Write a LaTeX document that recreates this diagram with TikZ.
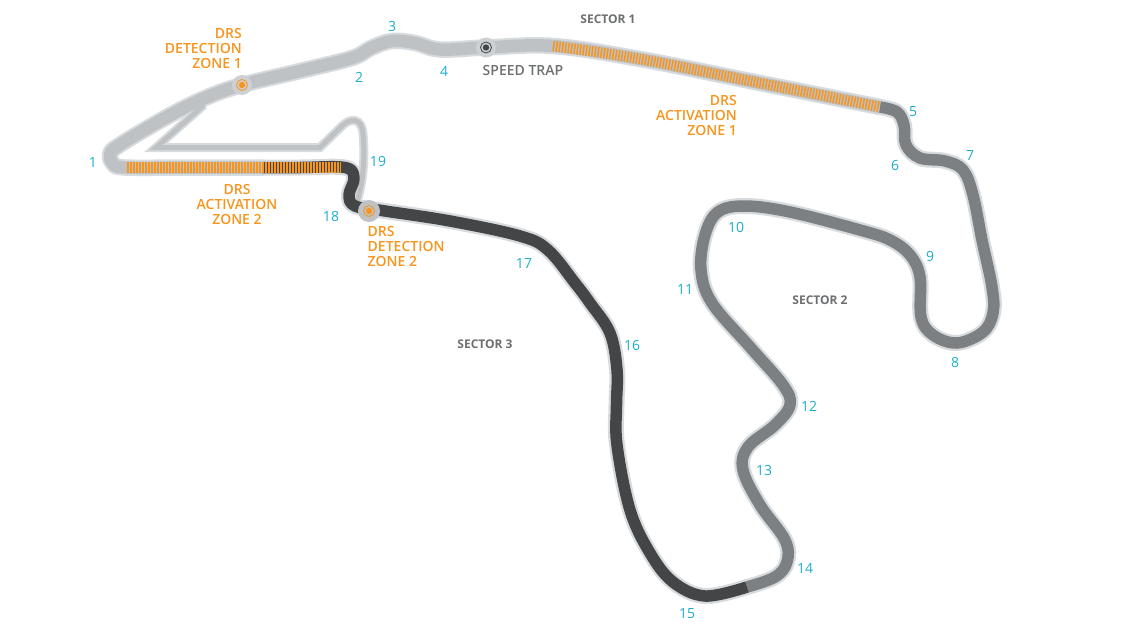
\documentclass[tikz,border=0pt]{standalone}
\usepackage{fontspec}
\setmainfont{Open Sans}
\newfontfamily\semifont{Open Sans Semibold}
\definecolor{secA}{HTML}{BEC2C5}
\definecolor{secB}{HTML}{7C8083}
\definecolor{secC}{HTML}{434547}
\definecolor{halo}{HTML}{D8DBDE}
\definecolor{drs}{HTML}{F7941D}
\definecolor{turn}{HTML}{1CADCF}
\definecolor{txtgrey}{HTML}{6D6F71}
\newcommand{\ptsA}{(263,167.5) (190,167.5) (125,167.5) (113,163.5) (110,155) (118,146) (165,118) (205,98) (242,85) (300,71) (352,58) (371,48) (392,41) (415,43) (440,49.5) (486,47.5) (553,46) (640,59) (760,83) (880,107)}
\newcommand{\ptsB}{(880,107) (897,112) (904,125) (906,145) (920,158) (945,161) (963,170) (973,195) (982,240) (992,287) (993,313) (983,332) (957,343) (933,335) (921,317) (920,277) (910,255) (890,240) (860,230) (790,212) (745,206) (718,212) (705,235) (701,270) (712,303) (750,347) (783,385) (790,405) (775,425) (748,447) (743,470) (760,505) (785,540) (787,562) (775,577) (747,587)}
\newcommand{\ptsC}{(747,587) (705,596) (673,582) (650,553) (630,510) (617,445) (616.5,405) (617,370) (610,333) (590,303) (575,283) (548,250) (520,236) (450,221) (385,211) (355,206) (349,195) (354,178) (345,167.5) (300,167.5) (263,167.5)}
\newcommand{\pitpath}{(204,105) -- (156,147.5) -- (320,147.5) -- (342,126) .. controls (350,118) and (362,117) .. (363,134) .. controls (365,155) and (364,180) .. (356,205)}
\tikzset{
  trk/.style={line width=#1,line cap=butt,line join=round},
  turnlab/.style={text=turn,font=\fontsize{14}{15}\selectfont,inner sep=0pt,yshift=-0.7pt},
  drslab/.style={text=drs,font=\semifont\fontsize{14}{15}\selectfont,inner sep=0pt,align=#1,yshift=-0.7pt},
  seclab/.style={text=txtgrey,font=\fontsize{12}{14}\selectfont\bfseries,inner sep=0pt,yshift=-0.4pt},
  hatch/.style={line width=10.5pt,dash pattern=on 1.5pt off 1.5pt}
}
\begin{document}
\begin{tikzpicture}[x=1pt,y=-1pt]
\useasboundingbox (0,0) rectangle (1128,635);
% halos
\draw[halo,trk=9pt,line join=miter] \pitpath;
\draw[halo,trk=16.5pt,line cap=round] plot[smooth,tension=0.6] coordinates {\ptsA};
\draw[halo,trk=16pt,line cap=round] plot[smooth,tension=0.6] coordinates {\ptsB};
\draw[halo,trk=16pt,line cap=round] plot[smooth,tension=0.6] coordinates {\ptsC};
% pit lane
\draw[secA,trk=5pt,line join=miter] \pitpath;
% track sectors
\draw[secA,trk=12.5pt] plot[smooth,tension=0.6] coordinates {\ptsA};
\draw[secB,trk=11.5pt] plot[smooth,tension=0.6] coordinates {\ptsB};
\draw[secC,trk=11.5pt] plot[smooth,tension=0.6] coordinates {\ptsC};
% DRS hatching
\draw[drs,hatch] (127,167.5) -- (341,167.5);
\draw[drs,hatch] plot[smooth,tension=0.6] coordinates {(553,46) (640,59) (760,83) (880,107)};
% markers
\fill[secA!75!white] (242,85) circle (10pt);
\draw[drs,line width=0.8pt] (242,85) circle (5.5pt);
\fill[drs] (242,85) circle (3.2pt);
\fill[secA] (369,211) circle (11pt);
\draw[drs,line width=0.8pt] (369,211) circle (5.5pt);
\fill[drs] (369,211) circle (3.2pt);
\fill[secA!75!white] (486,47.5) circle (10pt);
\draw[secC,line width=0.8pt] (486,47.5) circle (5.5pt);
\fill[secC] (486,47.5) circle (3.2pt);
% turn numbers
\node[turnlab] (t1) at (93,162) {1};
\node[turnlab] (t2) at (359,77) {2};
\node[turnlab] (t3) at (392,26) {3};
\node[turnlab] (t4) at (444,71) {4};
\node[turnlab] (t5) at (913,111) {5};
\node[turnlab] (t6) at (895,165) {6};
\node[turnlab] (t7) at (970,155) {7};
\node[turnlab] (t8) at (955,362) {8};
\node[turnlab] (t9) at (930,256) {9};
\node[turnlab] (t10) at (736,227) {10};
\node[turnlab] (t11) at (685,289) {11};
\node[turnlab] (t12) at (809,406) {12};
\node[turnlab] (t13) at (764,470) {13};
\node[turnlab] (t14) at (805,568) {14};
\node[turnlab] (t15) at (687,613) {15};
\node[turnlab] (t16) at (632,345) {16};
\node[turnlab] (t17) at (524,263) {17};
\node[turnlab] (t18) at (331,216) {18};
\node[turnlab] (t19) at (378,161) {19};
% DRS labels
\node[drslab=right,anchor=east] (dd1) at (242,48) {DRS\\DETECTION\\ZONE 1};
\node[drslab=center] (da2) at (237,204) {DRS\\ACTIVATION\\ZONE 2};
\node[drslab=left,anchor=west] (dd2) at (367.5,246) {DRS\\DETECTION\\ZONE 2};
\node[drslab=right,anchor=east] (da1) at (737,115) {DRS\\ACTIVATION\\ZONE 1};
% other labels
\node[text=txtgrey,font=\semifont\fontsize{14}{15}\selectfont,inner sep=0pt,yshift=-0.7pt] (st) at (523,70) {SPEED TRAP};
\node[seclab] (s1) at (608,19) {SECTOR 1};
\node[seclab] (s2) at (820,300) {SECTOR 2};
\node[seclab] (s3) at (485,344) {SECTOR 3};
\end{tikzpicture}
\end{document}
